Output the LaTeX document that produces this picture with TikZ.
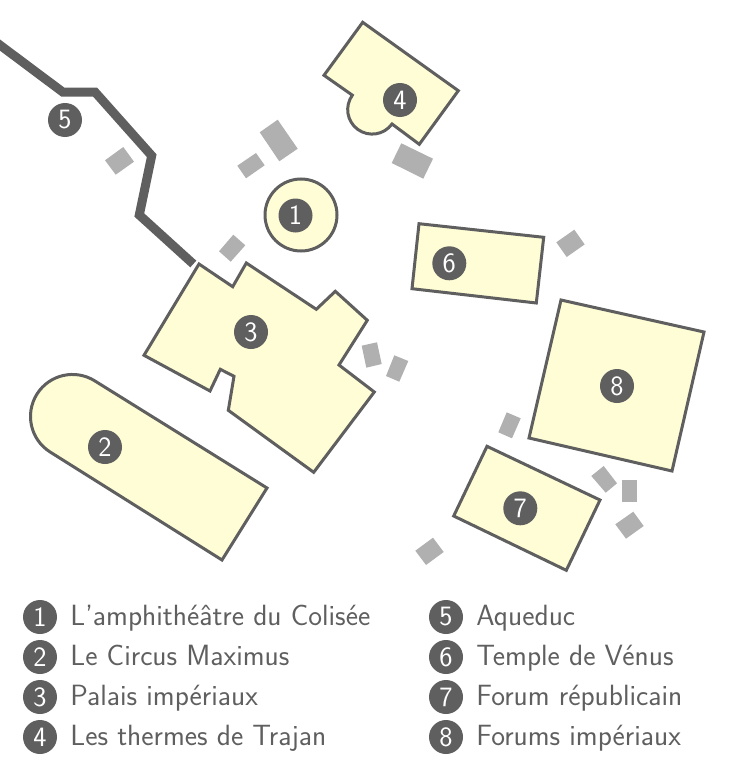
\documentclass[tikz,border=0pt]{standalone}
\usepackage{xcolor}
\usetikzlibrary{positioning}

\definecolor{wall}{HTML}{5F5F5F}
\definecolor{sand}{HTML}{FFFDD5}
\definecolor{ruin}{HTML}{B0B0B0}

\begin{document}
\begin{tikzpicture}[
  x=1pt, y=-1pt,
  badge/.style={circle, fill=wall, text=white, inner sep=0pt, minimum size=34pt, font=\sffamily\fontsize{28}{28}\selectfont},
  legendtext/.style={text=wall, inner sep=0pt, right=13pt of #1, text height=21pt, text depth=5pt, font=\sffamily\fontsize{29.3}{29.3}\selectfont},
  building/.style={draw=wall, fill=sand, line width=3pt, line join=miter},
  rubble/.style={fill=ruin},
  aqueduct/.style={draw=wall, line width=9pt, line join=miter}
]
\useasboundingbox (0,0) rectangle (734,768);

% small remains
\fill[rubble] (123.3,147) -- (134,161.7) -- (115.7,174.7) -- (105,160.3) -- cycle;
\fill[rubble] (277.7,119.7) -- (297.7,148.7) -- (279.3,161.3) -- (259.7,132.3) -- cycle;
\fill[rubble] (256,153) -- (264.7,165.3) -- (246,178.3) -- (237.3,165.7) -- cycle;
\fill[rubble] (233.3,234.7) -- (245.3,245.3) -- (230.7,261.7) -- (219,251.3) -- cycle;
\fill[rubble] (401.3,143.3) -- (433,158.7) -- (423.3,178.7) -- (391.7,163) -- cycle;
\fill[rubble] (574.3,229.7) -- (584.7,244.4) -- (566.7,257) -- (556.3,242.3) -- cycle;
\fill[rubble] (361.7,345.7) -- (377,342.3) -- (381.7,364) -- (366.3,367.7) -- cycle;
\fill[rubble] (394.3,355.3) -- (408.3,361) -- (399.3,381.7) -- (386,376) -- cycle;
\fill[rubble] (506.7,412.3) -- (520.7,418.3) -- (512,438.3) -- (498.3,432.3) -- cycle;
\fill[rubble] (603.7,466) -- (617,483.3) -- (605.7,492.7) -- (591.3,476) -- cycle;
\fill[rubble] (621.7,480) -- (637.3,480) -- (637.3,502.3) -- (621.7,502.3) -- cycle;
\fill[rubble] (633.3,511.7) -- (643.7,526) -- (626,538.7) -- (615.3,524.3) -- cycle;
\fill[rubble] (433,537.7) -- (443.7,552) -- (426,565) -- (415.3,550.7) -- cycle;

% aqueduct
\draw[aqueduct] (-6,40.6) -- (62.7,92) -- (95,92) -- (151.7,155.7) -- (139.3,215) -- (193.3,264);

% buildings
\draw[building] (301,215) circle[radius=36pt];
\draw[building] (267,488) -- (95,381) arc[start angle=57.6, delta angle=180, radius=42pt] -- (222,560) -- cycle;
\draw[building] (199,264) -- (232.7,286.7) -- (246.3,263) -- (316.3,309.3) -- (335.3,291.3) -- (367.3,320.3)
  -- (339,365) -- (374.3,392) -- (313.7,472.3) -- (228.3,410.3) -- (234,376.3) -- (220.3,369.3) -- (210,391)
  -- (144,355.3) -- cycle;
\draw[building] (362.7,22.3) -- (458.3,90.7) -- (419.3,144.3) -- (392,124)
  arc[start angle=-36, delta angle=-180, radius=24.5pt] -- (324,75.3) -- cycle;
\draw[building] (419,223.7) -- (543.7,237.3) -- (536.3,303) -- (412,288.7) -- cycle;
\draw[building] (487,446.3) -- (600,500) -- (566.3,570.3) -- (453.7,516) -- cycle;
\draw[building] (561,300) -- (704,332) -- (672,471) -- (529,438) -- cycle;

% numbers on the plan
\node[badge] (colisee) at (295.5,215.5) {1};
\node[badge] (circus) at (105,447) {2};
\node[badge] (palais) at (251,332) {3};
\node[badge] (thermes) at (400,100) {4};
\node[badge] (aqueduc) at (65,120) {5};
\node[badge] (venus) at (449.3,263.3) {6};
\node[badge] (republicain) at (520.3,508.3) {7};
\node[badge] (imperiaux) at (617,386) {8};

% legend
\node[badge] (l1) at (40,617) {1};
\node[badge] (l2) at (40,657) {2};
\node[badge] (l3) at (40,697) {3};
\node[badge] (l4) at (40,737) {4};
\node[badge] (l5) at (446,617) {5};
\node[badge] (l6) at (446,657) {6};
\node[badge] (l7) at (446,697) {7};
\node[badge] (l8) at (446,737) {8};
\node[legendtext=l1] (t1) {L'amphith\'e\^atre du Colis\'ee};
\node[legendtext=l2] (t2) {Le Circus Maximus};
\node[legendtext=l3] (t3) {Palais imp\'eriaux};
\node[legendtext=l4] (t4) {Les thermes de Trajan};
\node[legendtext=l5] (t5) {Aqueduc};
\node[legendtext=l6] (t6) {Temple de V\'enus};
\node[legendtext=l7] (t7) {Forum r\'epublicain};
\node[legendtext=l8] (t8) {Forums imp\'eriaux};
\end{tikzpicture}
\end{document}
